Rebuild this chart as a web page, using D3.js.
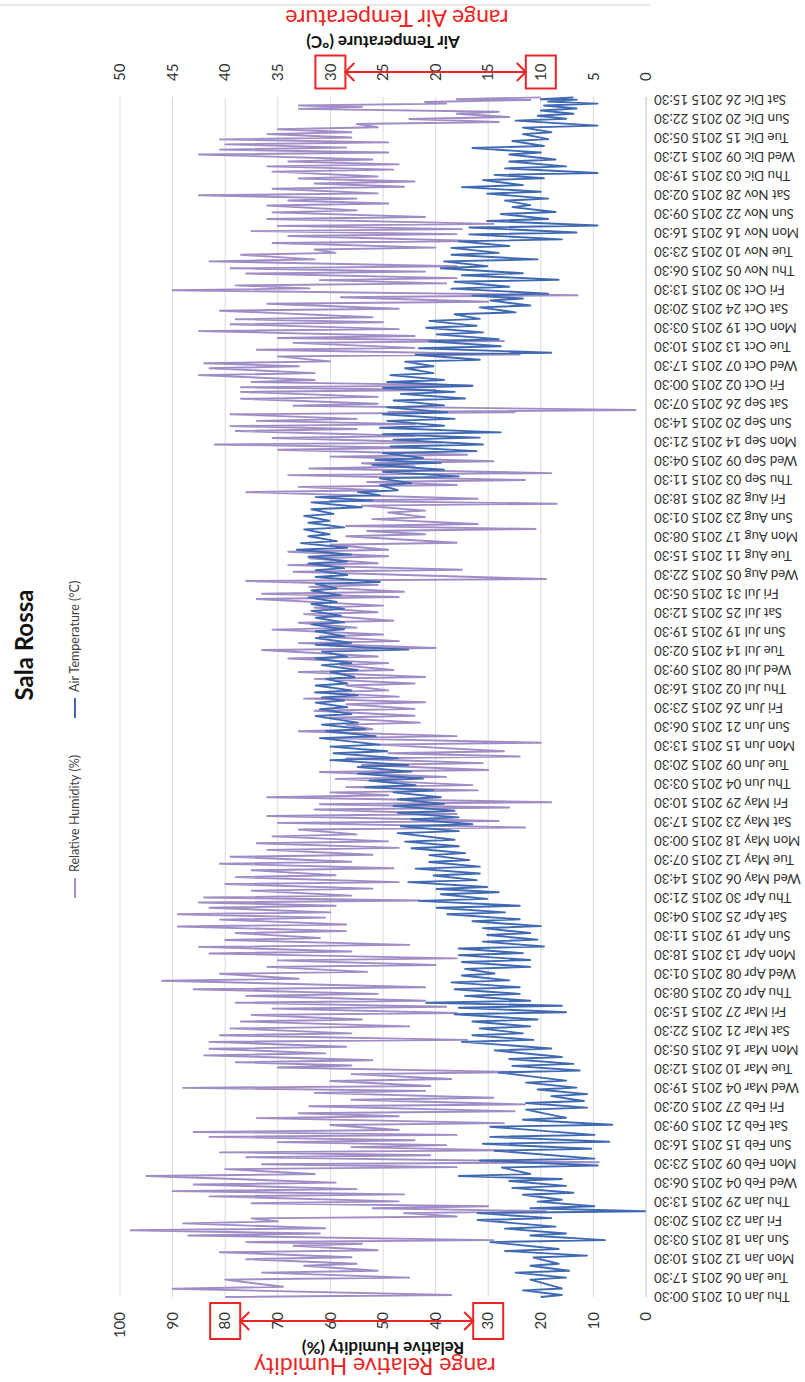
<!DOCTYPE html>
<html>
<head>
<meta charset="utf-8">
<script src="https://cdn.jsdelivr.net/npm/d3@7"></script>
<style>
  body { margin: 0; background: #fff; }
  svg { display: block; }
  text { font-family: Lato, "Open Sans", sans-serif; }
</style>
</head>
<body>
<svg id="chart" width="805" height="1382"></svg>
<script>
// hourly category axis, one label every 137 readings
const dateLabels = [
  "Thu Jan 01 2015 00:30", "Tue Jan 06 2015 17:30", "Mon Jan 12 2015 10:30", "Sun Jan 18 2015 03:30",
  "Fri Jan 23 2015 20:30", "Thu Jan 29 2015 13:30", "Wed Feb 04 2015 06:30", "Mon Feb 09 2015 23:30",
  "Sun Feb 15 2015 16:30", "Sat Feb 21 2015 09:30", "Fri Feb 27 2015 02:30", "Wed Mar 04 2015 19:30",
  "Tue Mar 10 2015 12:30", "Mon Mar 16 2015 05:30", "Sat Mar 21 2015 22:30", "Fri Mar 27 2015 15:30",
  "Thu Apr 02 2015 08:30", "Wed Apr 08 2015 01:30", "Mon Apr 13 2015 18:30", "Sun Apr 19 2015 11:30",
  "Sat Apr 25 2015 04:30", "Thu Apr 30 2015 21:30", "Wed May 06 2015 14:30", "Tue May 12 2015 07:30",
  "Mon May 18 2015 00:30", "Sat May 23 2015 17:30", "Fri May 29 2015 10:30", "Thu Jun 04 2015 03:30",
  "Tue Jun 09 2015 20:30", "Mon Jun 15 2015 13:30", "Sun Jun 21 2015 06:30", "Fri Jun 26 2015 23:30",
  "Thu Jul 02 2015 16:30", "Wed Jul 08 2015 09:30", "Tue Jul 14 2015 02:30", "Sun Jul 19 2015 19:30",
  "Sat Jul 25 2015 12:30", "Fri Jul 31 2015 05:30", "Wed Aug 05 2015 22:30", "Tue Aug 11 2015 15:30",
  "Mon Aug 17 2015 08:30", "Sun Aug 23 2015 01:30", "Fri Aug 28 2015 18:30", "Thu Sep 03 2015 11:30",
  "Wed Sep 09 2015 04:30", "Mon Sep 14 2015 21:30", "Sun Sep 20 2015 14:30", "Sat Sep 26 2015 07:30",
  "Fri Oct 02 2015 00:30", "Wed Oct 07 2015 17:30", "Tue Oct 13 2015 10:30", "Mon Oct 19 2015 03:30",
  "Sat Oct 24 2015 20:30", "Fri Oct 30 2015 13:30", "Thu Nov 05 2015 06:30", "Tue Nov 10 2015 23:30",
  "Mon Nov 16 2015 16:30", "Sun Nov 22 2015 09:30", "Sat Nov 28 2015 02:30", "Thu Dic 03 2015 19:30",
  "Wed Dic 09 2015 12:30", "Tue Dic 15 2015 05:30", "Sun Dic 20 2015 22:30", "Sat Dic 26 2015 15:30"
];
const labelStep = 137;   // readings between two labels
const lastHour = 8647;   // last reading on the axis

// [position along the year in days, high, low]
const humiditySamples = [
  [0,80,37],[2.5,90,69],[5.3,80,45],[7.4,73,51],[9.5,65,55],[11.5,76,56],[13.6,81,51],[15.6,67,54],[16.7,76,29],[18.7,87,62],
  [20.3,98,61],[22.4,88,70],[23.9,75,36],[25.5,46,19],[27,52,30],[28.5,75,47],[30.6,83,46],[32.2,90,55],[34.2,86,59],[36.8,95,63],
  [38.9,80,36],[40.4,73,9],[42.5,76,41],[44,81,26],[45.6,56,38],[47.1,70,44],[48.7,83,36],[50.2,86,47],[52.3,60,27],[54.4,74,47],
  [55.9,66,25],[58,64,23],[60,56,29],[62.1,63,42],[63.6,88,41],[65.7,60,37],[67.8,56,23],[69.8,70,56],[71.4,78,52],[73.5,84,61],
  [75.5,83,57],[77.6,83,34],[79.6,81,56],[81.7,79,45],[83.8,77,54],[85.8,75,36],[87.7,71,38],[89.5,78,42],[91.6,76,51],[93.6,86,42],
  [96.2,92,66],[98.3,81,53],[100.4,72,40],[102.4,70,36],[104.5,83,56],[106.5,85,45],[108.6,80,62],[110.7,78,57],[112.7,89,57],[114.8,81,61],
  [116.4,89,60],[118.4,83,59],[120,85,43],[121.5,84,56],[123.6,75,52],[125.6,80,47],[127.7,78,59],[129.8,75,48],[131.8,81,56],[133.9,79,52],
  [136,72,47],[138,74,49],[140.1,71,55],[142.2,66,23],[144.2,70,28],[146.3,72,36],[148.3,63,26],[149.9,62,18],[152,72,49],[153.5,60,32],
  [155.1,57,33],[157.6,59,38],[159.7,62,30],[161.8,54,31],[163.8,57,24],[165.4,49,27],[168,51,20],[170,61,36],[172.1,66,52],[174.1,57,43],
  [176.2,60,44],[178.3,63,44],[180.3,57,42],[182,65,47],[183.9,63,49],[186,57,44],[188,63,42],[190.1,66,48],[192.2,58,49],[194.2,68,51],
  [196.8,73,40],[198.9,66,47],[200.9,62,50],[203,71,55],[205.1,66,48],[207.7,65,51],[209.7,63,50],[212.3,74,47],[213.9,73,46],[216,64,51],
  [217.8,76,19],[220.6,67,35],[222.6,68,51],[224.7,64,49],[226.7,68,49],[228.8,60,36],[231.4,57,42],[233,53,21],[234.5,57,32],[236.6,52,42],
  [238.6,49,42],[240.7,54,17],[242.2,60,32],[244.8,76,51],[246.4,66,36],[247.9,53,23],[250,68,18],[252,64,44],[253.6,54,29],[255.6,60,34],
  [257.7,70,44],[259.3,82,39],[261.3,71,44],[263.4,78,55],[264.9,79,44],[266.5,74,55],[268.5,79,25],[269.2,49,2],[271.1,67,51],[273.2,77,51],
  [275.3,77,40],[276.7,77,33],[278.3,75,63],[280.4,85,63],[282.5,83,66],[284,84,60],[286.1,70,24],[288.1,74,44],[290.2,67,27],[291.7,70,44],
  [293.8,85,47],[295.9,79,50],[297.4,78,52],[300,81,47],[302.1,72,30],[304.1,58,13],[306.2,90,64],[307.7,78,38],[309.3,62,36],[311.3,76,42],
  [312.9,79,36],[315,83,63],[317,77,59],[318.6,63,40],[320.6,71,32],[322.7,68,36],[324.2,75,35],[325.8,70,29],[327.9,72,42],[329.9,71,55],
  [332,72,49],[333.5,68,55],[335.1,85,51],[337.1,71,46],[338.7,63,44],[340.2,66,51],[342.3,71,48],[343.9,72,47],[345.4,68,52],[347.5,85,49],
  [349,81,57],[350.6,80,49],[352.1,81,56],[353.7,72,56],[355.2,70,51],[356.8,55,28],[358.3,45,26],[359.9,36,28],[361.4,66,54],[362.4,66,38],
  [363.5,42,22],[364.3,36,20]
];

const temperatureSamples = [
  [0,10,8],[2,11.7,8],[5.3,11,7.6],[7.4,12.4,7.3],[9.5,11,8.3],[12,10.7,5.6],[14,13.4,8.3],[16.7,14.8,3.9],[18.7,11,7.6],[20.8,13.4,8.6],
  [23.4,16,9],[25.5,16,0.1],[27,11,4.9],[29,10.3,8],[31.1,11.7,6.9],[33.2,12.7,7.6],[35.3,13,8],[36.8,17.8,11],[39.4,13.7,4.6],[41.5,15.8,4.9],
  [44.5,14.4,5.2],[46.6,15.5,3.5],[48.7,14.8,4.9],[51.8,14.8,3.2],[53.9,11.7,7.6],[57,11.4,5.6],[59,11.4,5.9],[61.1,9,5.6],[63.1,10.3,6.6],[65.2,11.4,7.6],
  [68.3,14,6.3],[70.3,12.7,6.9],[72.4,13,8],[75,14.4,9],[77.6,17.5,10.7],[79.6,16.5,11.7],[81.7,15.8,11],[83.8,16.5,10.3],[86,18.2,7.6],[88,17.8,8],
  [89.5,20.9,11],[91.6,17.2,12],[93.6,18.2,12],[95.7,18.5,13],[97.8,17.5,14.4],[99.8,17.2,11],[101.9,17.5,11],[104,17.8,11.7],[106,17.8,9.7],[108.1,15.5,10.3],
  [110.1,15.1,11],[112.2,15.5,10],[114.3,16.5,12],[116.4,18.9,13.4],[118.4,19.9,12],[120.5,21.6,15.1],[122.5,19.5,14],[124.1,19.9,15.1],[126.2,22.6,16.1],[128.2,20.2,15.8],
  [130.3,21.9,15.8],[132.3,20.6,16.8],[134.4,20.6,17.2],[136.5,22.3,17.8],[138.5,22.9,18.2],[141.1,23.6,17.8],[143.2,23.3,16.5],[145.3,22.3,17.8],[147.3,23.6,18.2],[149.4,24,19.2],
  [151.4,23.6,19.5],[153.5,24,20.2],[155.1,26.7,21.9],[157.1,26.3,21.2],[159.2,27.4,22.3],[161.2,27.4,22.6],[163.3,30,23.6],[165.4,29.7,24.6],[167.4,30,25.3],[170,31,25.7],
  [172.1,30.4,26.7],[174.1,30.8,27.4],[176.7,31.4,28],[178.8,31,28.4],[180.8,31.4,28.7],[182.4,30.8,27.4],[183.9,31.4,28],[186,31.4,28.4],[188,30.4,27.7],[190.1,30,27.4],
  [192.2,30.8,28],[194.2,31.4,28.4],[196.3,30.8,22.6],[198.4,31.4,28],[200.4,31.4,28.7],[202.5,31.4,28.7],[204.6,31.8,28.7],[206.6,31.4,29],[208.7,31.8,28.7],[210.8,31.8,29.4],
  [212.8,32.1,29],[214.9,31.8,29.4],[216.9,31.4,25.3],[219,31.4,28.4],[221.1,31.4,28.7],[223.1,32.1,28.4],[225.2,32.1,28],[227.3,33.2,28.4],[229.3,32.8,29.4],[231.4,32.1,30.1],
  [233.5,32.5,28.7],[235.5,32.1,30.1],[237.6,32.5,29.7],[239.6,31.8,27],[241.7,31.8,26],[243.3,31.4,25.3],[244.8,27.4,23.6],[246.9,25.3,22.3],[249,25.3,17.8],[251,25,19.2],
  [253.1,26,19.5],[254.6,25.7,21.2],[256.7,25,16.1],[258.7,24.3,15.5],[260.8,24,15.8],[262.4,25,13.8],[264.4,25.3,19.2],[266.5,24.6,18.2],[268.5,25,18.9],[270.6,24.6,19.2],
  [272.7,24,17.2],[274.7,23.3,18.2],[276.5,25,16.5],[278.3,24.6,19.2],[280.4,24.3,20.2],[282.5,22.9,20.2],[284.5,22.9,15.8],[286.6,21.9,9],[288.6,21.6,13.8],[290.7,20.6,14],
  [292.8,19.9,15.5],[294.8,20.9,16.1],[296.9,20.6,15.8],[298.9,18.2,12.4],[301,15.8,11],[303.1,14.8,11.7],[304.6,16.5,9.3],[306.7,18.5,13],[308.8,18.2,8.3],[310.8,17.5,11.7],
  [312.9,19.5,15.1],[315,19.2,10.3],[317,18.5,14],[319.1,18.5,13],[321.1,17.8,8],[323.2,16.8,6.6],[325.3,16.8,4.6],[327.3,15.1,9.3],[329.4,13.8,8.6],[331.5,12.7,11],
  [333.5,13.4,9.3],[335.6,15.1,10],[337.6,17.5,11.7],[339.7,15.5,9.7],[341.3,14.4,4.6],[343.3,13.4,7.6],[345.4,13,8.6],[347.5,13,10],[349.5,16.5,9.7],[351.6,12.7,9.3],
  [353.7,11.7,9],[355.7,11.7,4.6],[357.8,12.4,7.6],[359.3,10.3,6.9],[360.9,10,6.6],[362.4,9.7,4.6],[363.6,9.3,6.6],[364.3,10,6.9]
];

const humidityTicks = [0, 10, 20, 30, 40, 50, 60, 70, 80, 90, 100];
const temperatureTicks = [0, 5, 10, 15, 20, 25, 30, 35, 40, 45, 50];
const humidityRange = [30, 80];
const temperatureRange = [10, 30];

const humColor = "#a08cc6";
const tempColor = "#3f69b2";
const red = "#ee2424";

// laid out as a normal landscape Excel chart, then turned a quarter left
const W = 1382;
const svg = d3.select("#chart");
const root = svg.append("g").attr("transform", `translate(0,${W}) rotate(-90)`);

const plot = { left: 85, right: 1285, top: 120, bottom: 646 };

const x = d3.scaleLinear().domain([0, lastHour]).range([plot.left, plot.right]);
const dayToHour = d3.scaleLinear().domain([0, 365]).range([0, lastHour]);
const yHum = d3.scaleLinear().domain([0, 100]).range([plot.bottom, plot.top]);
const yTemp = d3.scaleLinear().domain([0, 50]).range([plot.bottom, plot.top]);

// thin frame line at the very top of the picture
root.append("line")
  .attr("x1", W - 5).attr("x2", W - 5).attr("y1", 0).attr("y2", 650)
  .attr("stroke", "#d4d4d4").attr("stroke-width", 1);

// gridlines
root.append("g").selectAll("line")
  .data(humidityTicks.slice(1))
  .join("line")
  .attr("x1", plot.left).attr("x2", plot.right)
  .attr("y1", d => yHum(d)).attr("y2", d => yHum(d))
  .attr("stroke", "#d9d9d9").attr("stroke-width", 1);

root.append("line")
  .attr("x1", plot.left).attr("x2", plot.right)
  .attr("y1", yHum(0)).attr("y2", yHum(0))
  .attr("stroke", "#bfbfbf").attr("stroke-width", 1);

// series
function toPoints(samples) {
  return samples.flatMap(([day, hi, lo]) => [
    [dayToHour(day), hi],
    [Math.min(dayToHour(day + 0.6), lastHour), lo]
  ]);
}

root.append("path")
  .datum(toPoints(humiditySamples))
  .attr("fill", "none")
  .attr("stroke", humColor)
  .attr("stroke-width", 1.9)
  .attr("stroke-linejoin", "round")
  .attr("d", d3.line().x(d => x(d[0])).y(d => yHum(d[1])));

root.append("path")
  .datum(toPoints(temperatureSamples))
  .attr("fill", "none")
  .attr("stroke", tempColor)
  .attr("stroke-width", 1.9)
  .attr("stroke-linejoin", "round")
  .attr("d", d3.line().x(d => x(d[0])).y(d => yTemp(d[1])));

// date labels (category axis)
root.append("g").selectAll("text")
  .data(dateLabels)
  .join("text")
  .attr("transform", (d, i) => `translate(${x(i * labelStep)},${plot.bottom + 8}) rotate(-90)`)
  .attr("text-anchor", "end")
  .attr("dy", "0.35em")
  .attr("font-size", 13.3)
  .attr("fill", "#333")
  .text(d => d);

// humidity axis labels
root.append("g").selectAll("text")
  .data(humidityTicks)
  .join("text")
  .attr("x", W - 1312)
  .attr("y", d => yHum(d))
  .attr("dy", "0.35em")
  .attr("text-anchor", "end")
  .attr("font-size", 15)
  .attr("fill", "#333")
  .text(d => d);

// temperature axis labels
root.append("g").selectAll("text")
  .data(temperatureTicks)
  .join("text")
  .attr("x", W - 81)
  .attr("y", d => yTemp(d))
  .attr("dy", "0.35em")
  .attr("text-anchor", "start")
  .attr("font-size", 15)
  .attr("fill", "#333")
  .text(d => d);

const midY = (plot.top + plot.bottom) / 2;

// axis titles
root.append("text")
  .attr("transform", `translate(${W - 1342},${midY}) rotate(-90)`)
  .attr("text-anchor", "middle")
  .attr("font-size", 17).attr("font-weight", "bold").attr("fill", "#111")
  .text("Relative Humidity (%)");

root.append("text")
  .attr("transform", `translate(${W - 36},${midY}) rotate(-90)`)
  .attr("text-anchor", "middle")
  .attr("font-size", 17).attr("font-weight", "bold").attr("fill", "#111")
  .text("Air Temperature (°C)");

// title
root.append("text")
  .attr("x", W - 645).attr("y", 33)
  .attr("text-anchor", "middle")
  .attr("font-size", 24).attr("font-weight", "bold").attr("fill", "#111")
  .text("Sala Rossa");

// legend
const legendItems = [
  { label: "Relative Humidity (%)", color: humColor, at: 484 },
  { label: "Air Temperature (°C)", color: tempColor, at: 664 }
];
const legend = root.append("g").selectAll("g").data(legendItems).join("g");
legend.append("line")
  .attr("x1", d => d.at).attr("x2", d => d.at + 20)
  .attr("y1", 75).attr("y2", 75)
  .attr("stroke", d => d.color).attr("stroke-width", 2);
legend.append("text")
  .attr("x", d => d.at + 26).attr("y", 75)
  .attr("dy", "0.35em")
  .attr("font-size", 12.5).attr("fill", "#404040")
  .text(d => d.label);

// red annotations: boxes round the range limits and a double arrow between them
function rangeMark(scale, range, axisX, boxDepth) {
  const g = root.append("g");
  const half = 15;
  g.selectAll("rect")
    .data(range)
    .join("rect")
    .attr("x", axisX - boxDepth / 2)
    .attr("y", d => scale(d) - half)
    .attr("width", boxDepth)
    .attr("height", half * 2)
    .attr("fill", "none")
    .attr("stroke", red)
    .attr("stroke-width", 2);
  const a = scale(range[1]) + half;
  const b = scale(range[0]) - half;
  g.append("line")
    .attr("x1", axisX).attr("x2", axisX)
    .attr("y1", a).attr("y2", b)
    .attr("stroke", red).attr("stroke-width", 2);
  const head = 9;
  g.append("path")
    .attr("d", `M${axisX - head},${a + head}L${axisX},${a}L${axisX + head},${a + head}` +
               `M${axisX - head},${b - head}L${axisX},${b}L${axisX + head},${b - head}`)
    .attr("fill", "none").attr("stroke", red).attr("stroke-width", 2);
}
rangeMark(yTemp, temperatureRange, W - 72, 33);
rangeMark(yHum, humidityRange, W - 1321, 36);

root.append("text")
  .attr("transform", `translate(${W - 10},397) rotate(-90)`)
  .attr("text-anchor", "middle")
  .attr("font-family", "'Liberation Serif', serif")
  .attr("font-size", 23).attr("fill", red)
  .text("range  Air Temperature");

root.append("text")
  .attr("transform", `translate(${W - 1358},375) rotate(-90)`)
  .attr("text-anchor", "middle")
  .attr("font-family", "'Liberation Serif', serif")
  .attr("font-size", 23).attr("fill", red)
  .text("range Relative Humidity");
</script>
</body>
</html>
